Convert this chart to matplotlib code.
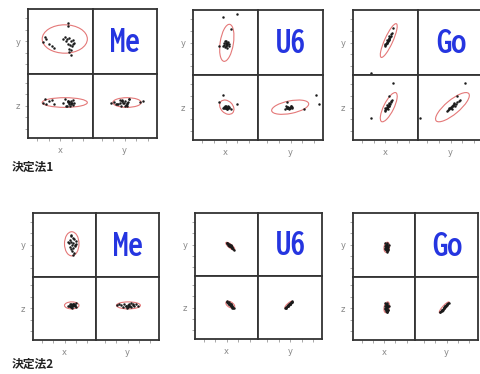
import numpy as np
import matplotlib
matplotlib.use("Agg")
import matplotlib.pyplot as plt
from matplotlib.patches import Ellipse
from matplotlib import font_manager as fm
from matplotlib.textpath import TextPath

W, H = 481, 374

methods = ["Me", "U6", "Go"]
row_labels = ["決定法1", "決定法2"]
tick_pos = [1.4, 3.2, 5.0, 6.8, 8.6]

# ---- 決定法1 ----
me1_x = [6.2, 6.2, 2.6, 2.4, 2.8, 3.3, 3.7, 4.1, 5.5, 5.8, 6.0, 6.3, 6.6, 6.9, 7.1, 6.2, 6.5, 6.8, 6.4, 7.0, 6.6, 6.3, 5.9, 6.7]
me1_y = [7.8, 7.4, 5.7, 4.9, 5.3, 4.6, 4.3, 4.0, 5.4, 5.6, 5.3, 5.5, 5.0, 5.2, 4.8, 4.6, 4.4, 4.2, 3.8, 4.5, 3.6, 3.3, 5.1, 2.9]
me1_z = [5.8, 5.6, 6.0, 5.5, 5.2, 5.7, 5.9, 5.3, 5.4, 6.1, 5.0, 5.6, 5.8, 5.1, 5.4, 5.7, 4.9, 5.5, 5.3, 5.9, 5.2, 5.6, 5.0, 5.4]
me1_center = [5.7, 5.35, 5.5]
me1_half = [3.5, 2.2, 0.75]
me1_corr = [0.0, 0.0, 0.0]   # xy, xz, yz

u61_x = [4.6, 6.8, 5.8, 4.0, 4.9, 4.7, 5.0, 5.2, 5.4, 4.9, 5.1, 5.3, 5.5, 4.8, 5.0, 5.2, 5.6, 4.6, 5.1, 5.3]
u61_y = [8.9, 9.4, 7.1, 4.4, 5.2, 4.6, 4.8, 4.9, 5.1, 4.3, 4.5, 4.7, 4.4, 4.9, 5.0, 4.6, 4.8, 4.4, 5.3, 4.2]
u61_z = [6.9, 5.6, 4.8, 5.8, 5.0, 5.1, 5.0, 4.9, 5.2, 5.3, 5.0, 4.8, 5.1, 4.9, 5.2, 5.0, 4.9, 5.0, 5.1, 4.7]
u61_center = [5.2, 4.95, 5.05]
u61_half = [1.1, 2.85, 1.1]
u61_corr = [0.35, -0.3, 0.45]

go1_x = [6.2, 2.8, 5.5, 4.9, 5.0, 5.1, 5.2, 5.3, 5.4, 5.5, 5.6, 5.7, 5.8, 5.9, 5.2, 5.4, 5.6, 5.0, 5.3, 5.5, 6.0]
go1_y = [7.2, 0.3, 6.0, 4.4, 4.6, 4.8, 4.9, 5.1, 5.3, 5.4, 5.6, 5.8, 6.0, 6.3, 5.0, 5.2, 5.5, 4.7, 5.4, 5.7, 6.5]
go1_z = [8.75, 3.4, 6.7, 4.4, 4.6, 4.7, 4.9, 5.0, 5.2, 5.3, 5.5, 5.6, 5.8, 6.0, 5.1, 4.8, 5.7, 5.0, 5.4, 5.2, 6.2]
go1_center = [5.5, 5.3, 5.05]
go1_half = [1.3, 2.6, 2.25]
go1_corr = [0.85, 0.75, 0.8]

# ---- 決定法2 ----
me2_x = [6.0, 6.3, 5.8, 6.5, 6.1, 6.8, 5.7, 6.4, 6.2, 6.6, 5.9, 6.3, 6.0, 6.7, 6.2, 5.6, 6.5, 6.1, 6.9, 6.3]
me2_y = [6.4, 6.1, 5.8, 5.9, 5.5, 5.6, 5.2, 5.3, 4.9, 5.0, 4.7, 4.5, 4.3, 4.8, 4.0, 5.4, 3.7, 6.6, 5.1, 3.4]
me2_z = [5.6, 5.3, 5.7, 5.5, 5.2, 5.8, 5.4, 5.6, 5.1, 5.5, 5.3, 5.7, 5.2, 5.4, 5.5, 5.3, 5.6, 5.4, 5.2, 5.5]
me2_center = [6.15, 5.15, 5.45]
me2_half = [1.15, 1.9, 0.55]
me2_corr = [0.0, 0.0, 0.0]

u62_x = [5.0, 5.1, 5.2, 5.3, 5.4, 5.5, 5.6, 5.7, 5.8, 5.9, 6.0, 6.1, 5.2, 5.4, 5.6, 5.8, 5.3, 5.5, 5.7, 5.1, 5.9, 5.4, 5.6, 5.5]
u62_y = [5.3, 5.2, 5.1, 5.0, 4.9, 4.8, 4.8, 4.7, 4.6, 4.5, 4.3, 4.2, 5.0, 4.8, 4.6, 4.4, 5.1, 4.9, 4.7, 5.2, 4.4, 5.0, 4.9, 4.7]
u62_z = [5.9, 5.8, 5.7, 5.6, 5.6, 5.4, 5.5, 5.4, 5.3, 5.2, 5.0, 4.9, 5.7, 5.5, 5.2, 5.1, 5.8, 5.5, 5.3, 6.0, 5.0, 5.5, 5.6, 5.4]
u62_center = [5.55, 4.75, 5.45]
u62_half = [0.7, 0.6, 0.55]
u62_corr = [-0.8, -0.5, 0.85]

go2_x = [5.2, 5.4, 5.3, 5.5, 5.4, 5.6, 5.3, 5.5, 5.2, 5.4, 5.6, 5.3, 5.5, 5.1, 5.4, 5.7, 5.3, 5.5, 5.4, 5.2, 5.6, 5.4, 5.3, 5.5]
go2_y = [5.2, 5.1, 5.0, 4.9, 4.8, 4.7, 4.6, 4.5, 4.4, 4.3, 4.2, 4.1, 4.0, 4.5, 4.7, 4.9, 4.3, 5.3, 4.6, 4.8, 4.4, 3.9, 5.0, 4.2]
go2_z = [5.8, 5.7, 5.6, 5.5, 5.3, 5.3, 5.1, 5.0, 4.9, 4.8, 4.7, 4.6, 4.4, 5.1, 5.2, 5.4, 4.7, 5.9, 5.2, 5.4, 4.8, 4.4, 5.5, 4.6]
go2_center = [5.4, 4.6, 5.15]
go2_half = [0.45, 0.8, 0.85]
go2_corr = [0.2, 0.3, 0.9]

panels = [
    [(me1_x, me1_y, me1_z, me1_center, me1_half, me1_corr),
     (u61_x, u61_y, u61_z, u61_center, u61_half, u61_corr),
     (go1_x, go1_y, go1_z, go1_center, go1_half, go1_corr)],
    [(me2_x, me2_y, me2_z, me2_center, me2_half, me2_corr),
     (u62_x, u62_y, u62_z, u62_center, u62_half, u62_corr),
     (go2_x, go2_y, go2_z, go2_center, go2_half, go2_corr)],
]

# panel boxes in pixels: left, top, cell width, cell height
boxes = [
    [(28, 9, 64.5, 64.5), (193, 10, 65, 65), (353, 10, 65, 65)],
    [(33, 213, 63, 63.5), (195, 213, 63.5, 63), (353, 213, 62.5, 63.5)],
]
label_pos = [(12, 167), (12, 364)]

# big blue labels: a heavy narrow face, "Me" about 25 px wide and 22 px tall
best = None
for f in fm.fontManager.ttflist:
    fn = f.fname.lower().replace("_", "").replace("-", "")
    if not ("condensed" in fn or "narrow" in fn):
        continue
    if "bold" not in fn or "italic" in fn or "oblique" in fn:
        continue
    if any(k in fn for k in ("semibold", "light", "thin", "medium")):
        continue
    try:
        ext = TextPath((0, 0), "Me", prop=fm.FontProperties(fname=f.fname, size=10)).get_extents()
    except Exception:
        continue
    if ext.height <= 0:
        continue
    score = abs(ext.width / ext.height - 25 / 22)
    if best is None or score < best[0]:
        best = (score, f.fname, ext.width)
if best:
    size_pt = 28 / (best[2] / 10 * 100 / 72)
    big_font = fm.FontProperties(fname=best[1], size=size_pt)
else:
    big_font = fm.FontProperties(family="DejaVu Sans", weight="bold", size=16)

fig = plt.figure(figsize=(W / 100, H / 100), dpi=100)


def draw_ellipse(ax, ca, cb, ha, hb, r):
    cov = np.array([[ha * ha, r * ha * hb], [r * ha * hb, hb * hb]])
    vals, vecs = np.linalg.eigh(cov)
    ang = np.degrees(np.arctan2(vecs[1, 1], vecs[0, 1]))
    e = Ellipse((ca, cb), 2 * np.sqrt(vals[1]), 2 * np.sqrt(vals[0]), angle=ang,
                fill=False, edgecolor="#e47878", linewidth=0.8, zorder=1)
    ax.add_patch(e)


def make_cell(L, T, cw, ch, i, j):
    left = L + j * cw
    bottom = H - (T + (i + 1) * ch)
    ax = fig.add_axes([left / W, bottom / H, cw / W, ch / H])
    ax.set_xlim(0, 10)
    ax.set_ylim(0, 10)
    for s in ax.spines.values():
        s.set_linewidth(1.3)
        s.set_color("#333333")
    ax.tick_params(direction="out", length=2.5, width=0.6, color="#999999",
                   labelsize=6, labelcolor="#888888", pad=3)
    ax.set_xticks([])
    ax.set_yticks([])
    return ax


for r in range(2):
    for c in range(3):
        px, py, pz, cen, half, corr = panels[r][c]
        L, T, cw, ch = boxes[r][c]
        vals = [px, py, pz]

        ax_tl = make_cell(L, T, cw, ch, 0, 0)
        ax_tr = make_cell(L, T, cw, ch, 0, 1)
        ax_bl = make_cell(L, T, cw, ch, 1, 0)
        ax_br = make_cell(L, T, cw, ch, 1, 1)

        pairs = [(ax_tl, 0, 1, corr[0]), (ax_bl, 0, 2, corr[1]), (ax_br, 1, 2, corr[2])]
        for ax, a, b, rr in pairs:
            draw_ellipse(ax, cen[a], cen[b], half[a], half[b], rr)
            ax.plot(vals[a], vals[b], linestyle="none", marker="o", markersize=1.4,
                    markeredgewidth=0.3, color="#1a1a1a", zorder=2)

        ax_tl.set_yticks(tick_pos)
        ax_tl.set_yticklabels(["", "", "y", "", ""])
        ax_bl.set_yticks(tick_pos)
        ax_bl.set_yticklabels(["", "", "z", "", ""])
        ax_bl.set_xticks(tick_pos)
        ax_bl.set_xticklabels(["", "", "x", "", ""])
        ax_br.set_xticks(tick_pos)
        ax_br.set_xticklabels(["", "", "y", "", ""])

        ax_tr.text(5.1, 4.8, methods[c], ha="center", va="center", color="#2535e0",
                   fontproperties=big_font)

    lx, ly = label_pos[r]
    fig.text(lx / W, 1 - ly / H, row_labels[r], ha="left", va="center",
             fontsize=8.5, fontweight="bold", color="#222222",
             family=["Noto Sans CJK JP", "DejaVu Sans"])

fig.savefig("out.png", dpi=100)
